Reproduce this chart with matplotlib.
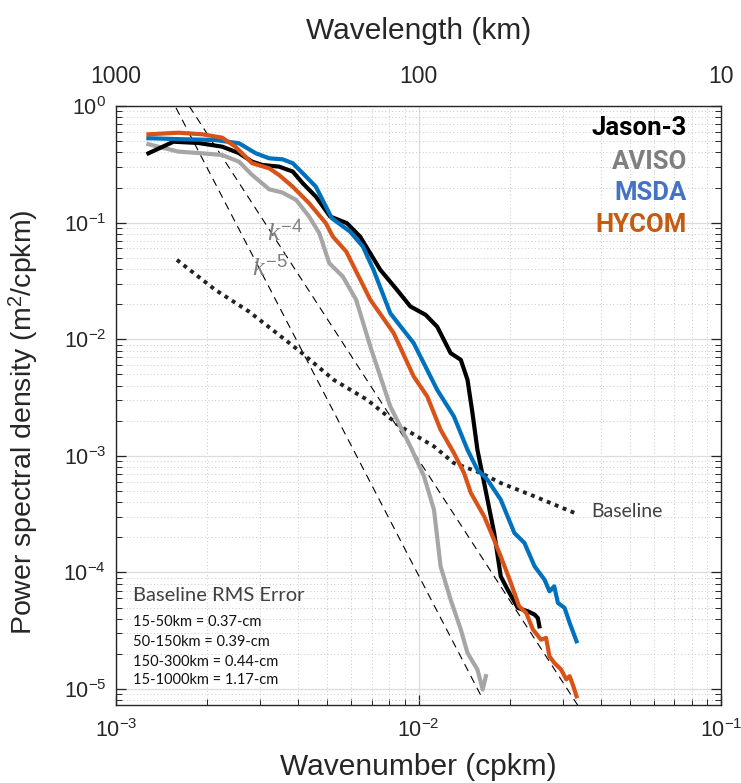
import numpy as np
import matplotlib
matplotlib.use("Agg")
import matplotlib.pyplot as plt

plt.rcParams['font.family'] = ['Liberation Sans', 'DejaVu Sans']
plt.rcParams['axes.unicode_minus'] = False
plt.rcParams['mathtext.fontset'] = 'custom'
plt.rcParams['mathtext.rm'] = 'Liberation Sans'
plt.rcParams['mathtext.it'] = 'Liberation Serif:italic'

# ---------------- data ----------------
jason_k = [1.28e-3, 1.549e-3, 1.869e-3, 2.244e-3, 2.54e-3, 2.82e-3, 3.05e-3, 3.46e-3,
           3.84e-3, 4.14e-3, 4.58e-3, 5.10e-3, 5.80e-3, 6.41e-3, 7.48e-3, 8.49e-3,
           9.40e-3, 1.055e-2, 1.153e-2, 1.277e-2, 1.38e-2, 1.452e-2, 1.508e-2, 1.566e-2,
           1.648e-2, 1.779e-2, 1.87e-2, 1.97e-2, 2.13e-2, 2.30e-2, 2.42e-2, 2.48e-2, 2.51e-2]
jason_psd = [0.393, 0.494, 0.482, 0.448, 0.396, 0.333, 0.312, 0.302,
             0.274, 0.218, 0.167, 0.113, 0.0988, 0.0759, 0.0393, 0.0265,
             0.0191, 0.0162, 0.0128, 7.6e-3, 6.66e-3, 4.49e-3, 2.33e-3, 1.127e-3,
             5.85e-4, 2.18e-4, 9.27e-5, 7.13e-5, 4.97e-5, 4.64e-5, 4.35e-5, 4.07e-5, 3.45e-5]

aviso_k = [1.28e-3, 1.61e-3, 1.93e-3, 2.244e-3, 2.55e-3, 2.82e-3, 3.21e-3, 3.55e-3,
           3.94e-3, 4.35e-3, 4.70e-3, 5.07e-3, 5.62e-3, 6.22e-3, 6.93e-3, 8.07e-3,
           8.71e-3, 9.40e-3, 1.043e-2, 1.125e-2, 1.183e-2, 1.277e-2, 1.38e-2, 1.452e-2,
           1.566e-2, 1.63e-2, 1.67e-2]
aviso_psd = [0.470, 0.406, 0.393, 0.380, 0.333, 0.256, 0.193, 0.181,
             0.1565, 0.1126, 0.0811, 0.0449, 0.0345, 0.0218, 8.66e-3, 2.65e-3,
             1.786e-3, 1.205e-3, 6.67e-4, 3.45e-4, 1.128e-4, 5.85e-5, 3.24e-5, 2.04e-5,
             1.47e-5, 9.9e-6, 1.29e-5]

msda_k = [1.28e-3, 1.652e-3, 2.13e-3, 2.55e-3, 2.90e-3, 3.21e-3, 3.55e-3, 3.84e-3,
          4.25e-3, 4.58e-3, 5.17e-3, 5.94e-3, 6.55e-3, 7.10e-3, 8.07e-3, 9.64e-3,
          1.153e-2, 1.309e-2, 1.452e-2, 1.566e-2, 1.69e-2, 1.87e-2, 2.075e-2, 2.24e-2,
          2.42e-2, 2.61e-2, 2.71e-2, 2.81e-2, 2.89e-2, 3.04e-2, 3.16e-2, 3.33e-2]
msda_psd = [0.529, 0.519, 0.511, 0.479, 0.393, 0.356, 0.349, 0.323,
            0.248, 0.203, 0.109, 0.0837, 0.0623, 0.0393, 0.0167, 9.26e-3,
            3.68e-3, 2.18e-3, 1.127e-3, 7.60e-4, 6.24e-4, 4.21e-4, 2.18e-4, 1.79e-4,
            1.128e-4, 8.67e-5, 6.89e-5, 7.60e-5, 5.48e-5, 4.97e-5, 3.69e-5, 2.57e-5]

hycom_k = [1.28e-3, 1.61e-3, 1.93e-3, 2.244e-3, 2.48e-3, 2.82e-3, 3.21e-3, 3.46e-3,
           3.84e-3, 4.35e-3, 4.94e-3, 5.21e-3, 5.77e-3, 6.93e-3, 8.28e-3, 9.64e-3,
           1.069e-2, 1.183e-2, 1.309e-2, 1.414e-2, 1.49e-2, 1.648e-2, 1.758e-2, 1.87e-2,
           2.02e-2, 2.15e-2, 2.27e-2, 2.39e-2, 2.54e-2, 2.64e-2, 2.71e-2, 2.81e-2,
           2.96e-2, 3.08e-2, 3.16e-2, 3.25e-2, 3.33e-2]
hycom_psd = [0.572, 0.590, 0.572, 0.535, 0.448, 0.323, 0.292, 0.256,
             0.203, 0.1466, 0.0988, 0.0759, 0.0564, 0.0218, 0.01128, 4.79e-3,
             3.23e-3, 1.674e-3, 1.057e-3, 7.13e-4, 4.80e-4, 3.03e-4, 2.04e-4, 1.374e-4,
             8.13e-5, 5.13e-5, 4.50e-5, 3.24e-5, 2.65e-5, 2.75e-5, 1.91e-5, 1.68e-5,
             1.47e-5, 1.21e-5, 1.29e-5, 1.057e-5, 8.67e-6]

baseline_k = [1.59e-3, 2.13e-3, 2.75e-3, 3.29e-3, 4.06e-3, 5.24e-3, 6.76e-3, 8.71e-3,
              1.125e-2, 1.309e-2, 1.607e-2, 1.87e-2, 2.42e-2, 3.28e-2]
baseline_psd = [0.0479, 0.0265, 0.01727, 0.01204, 7.85e-3, 4.49e-3, 3.03e-3, 1.786e-3,
                1.205e-3, 8.67e-4, 7.13e-4, 5.85e-4, 4.49e-4, 3.24e-4]

# reference slopes k^-4 and k^-5
slope4_k = [1.40e-3, 3.37e-2]
slope4_coef = 10 ** -11.033
slope5_k = [1.25e-3, 1.63e-2]
slope5_coef = 10 ** -14.024

series_names = ['Jason-3', 'AVISO', 'MSDA', 'HYCOM']
rms_title = 'Baseline RMS Error'
rms_lines = ['15-50km = 0.37-cm', '50-150km = 0.39-cm',
             '150-300km = 0.44-cm', '15-1000km = 1.17-cm']
wavelength_ticks_km = [1000, 100, 10]

# ---------------- figure ----------------
fig = plt.figure(figsize=(7.41, 7.83), dpi=100)
ax = fig.add_axes([116 / 741, 1 - 705 / 783, 605 / 741, 599 / 783])
ax.set_xscale('log')
ax.set_yscale('log')
ax.set_xlim(1e-3, 1e-1)
ax.set_ylim(7.3e-6, 1.0)

ax.grid(True, which='major', color='#dcdcdc', linewidth=0.9, linestyle='-')
ax.grid(True, which='minor', color='#c8c8c8', linewidth=0.7, linestyle=(0, (1, 2.5)))
ax.set_axisbelow(True)

line_col = {'k': '#000000', 'g': '#a6a6a6', 'b': '#0072bd', 'o': '#d95319'}
lw = 3.0

s4 = np.array(slope4_k)
s5 = np.array(slope5_k)
ax.plot(s5, slope5_coef * s5 ** -5, color='black', lw=0.8, dashes=(7, 5), zorder=2)
ax.plot(s4, slope4_coef * s4 ** -4, color='black', lw=0.8, dashes=(7, 5), zorder=2)

ax.plot(baseline_k, baseline_psd, color='#222222', lw=2.8, linestyle=(0, (1, 1.2)),
        dash_capstyle='butt', zorder=3)

ax.plot(aviso_k, aviso_psd, color=line_col['g'], lw=lw, solid_joinstyle='round', zorder=4)
ax.plot(jason_k, jason_psd, color=line_col['k'], lw=lw, solid_joinstyle='round', zorder=5)
ax.plot(msda_k, msda_psd, color=line_col['b'], lw=lw, solid_joinstyle='round', zorder=6)
ax.plot(hycom_k, hycom_psd, color=line_col['o'], lw=lw, solid_joinstyle='round', zorder=7)

# spines and ticks
for sp in ax.spines.values():
    sp.set_color('#262626')
    sp.set_linewidth(1.0)
ax.tick_params(which='both', direction='in', top=True, right=True, colors='#262626')
ax.tick_params(which='major', length=7, width=0.9, labelsize=15.5, pad=7)
ax.tick_params(which='minor', length=4, width=0.7)
ax.tick_params(axis='x', which='major', pad=10)

ax.set_xlabel('Wavenumber (cpkm)', fontsize=21.5, color='#262626', labelpad=8)
ax.set_ylabel('Power spectral density (m$^2$/cpkm)', fontsize=20.5, color='#262626')
ax.yaxis.set_label_coords(-0.125, 0.472)

# top wavelength axis
ax2 = ax.twiny()
ax2.set_xscale('log')
ax2.set_xlim(ax.get_xlim())
ax2.set_xticks([1.0 / w for w in wavelength_ticks_km])
ax2.set_xticklabels([str(w) for w in wavelength_ticks_km])
ax2.set_xticks([], minor=True)
ax2.tick_params(axis='x', length=0, labelsize=16.5, pad=13, colors='#262626')
ax2.set_xlabel('Wavelength (km)', fontsize=21.5, color='#262626', labelpad=19)
for sp in ax2.spines.values():
    sp.set_visible(False)

# legend-like labels
leg_cols = ['#000000', '#7f7f7f', '#4472c4', '#c55a11']
leg_y = [0.9628, 0.907, 0.854, 0.801]
for name, c, yy in zip(series_names, leg_cols, leg_y):
    ax.text(0.944, yy, name, transform=ax.transAxes, ha='right', va='center',
            fontsize=18.5, fontweight='bold', color=c, family=['Roboto', 'DejaVu Sans'],
            zorder=10)

# slope labels
ax.text(3.62e-3, 0.0814, r'$\mathit{k^{-4}}$', fontsize=19, color='#808080',
        ha='center', va='center', zorder=9)
ax.text(3.23e-3, 0.0408, r'$\mathit{k^{-5}}$', fontsize=19, color='#808080',
        ha='center', va='center', zorder=9)

ax.text(0.03737, 3.32e-4, 'Baseline', fontsize=14, color='#404040', ha='left',
        va='center', family=['Lato', 'DejaVu Sans'], zorder=9)

ax.text(0.0276, 0.1836, rms_title, transform=ax.transAxes, fontsize=14.5, color='#404040',
        ha='left', va='center', family=['Lato', 'DejaVu Sans'], zorder=9)
for txt, yy in zip(rms_lines, [0.139, 0.1057, 0.0723, 0.0417]):
    ax.text(0.0276, yy, txt, transform=ax.transAxes, fontsize=10.5, color='#111111',
            ha='left', va='center', family=['Lato', 'DejaVu Sans'], zorder=9)

fig.savefig('out.png', dpi=100)
